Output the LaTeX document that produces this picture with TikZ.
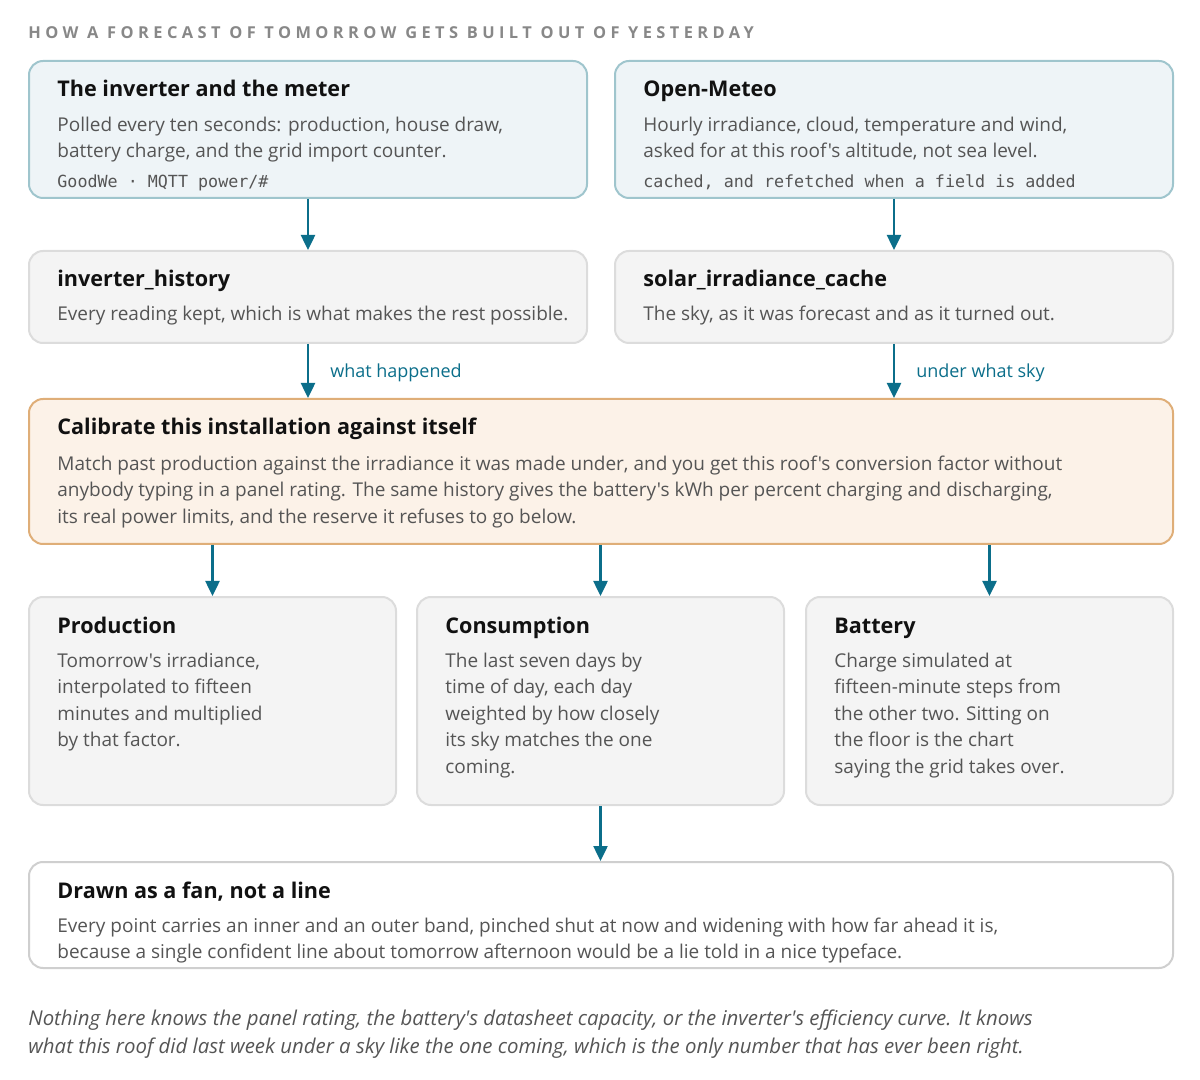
\documentclass[tikz,border=0pt]{standalone}
\usepackage{fontspec}
\usepackage{xcolor}
\setmainfont{Open Sans}[Ligatures=TeXOff]
\newfontfamily\monofont{DejaVu Sans Mono}
\newfontfamily\capsfont{Open Sans}[LetterSpace=27]
\usetikzlibrary{positioning,arrows.meta}

\definecolor{headink}{HTML}{111111}
\definecolor{inkgray}{HTML}{555555}
\definecolor{capgray}{HTML}{888888}
\definecolor{srcfill}{HTML}{EEF4F7}
\definecolor{srcline}{HTML}{9FC5CD}
\definecolor{storefill}{HTML}{F4F4F4}
\definecolor{storeline}{HTML}{DCDCDC}
\definecolor{calfill}{HTML}{FCF2E8}
\definecolor{calline}{HTML}{DFAE78}
\definecolor{fanline}{HTML}{CFCFCF}
\definecolor{flow}{HTML}{0B6E8A}

\begin{document}
\begin{tikzpicture}[
        x=0.5pt, y=-0.5pt,
        box/.style={rectangle, rounded corners=7pt, line width=1pt, anchor=north west, inner sep=0pt},
        boxsize/.style 2 args={minimum width=#1, minimum height=#2},
        srcbox/.style={box, draw=srcline, fill=srcfill, boxsize={279pt}{68.5pt}},
        storebox/.style={box, draw=storeline, fill=storefill, boxsize={279pt}{46pt}},
        calbox/.style={box, draw=calline, fill=calfill, boxsize={572pt}{72.5pt}},
        stagebox/.style={box, draw=storeline, fill=storefill, boxsize={183.5pt}{104pt}},
        fanbox/.style={box, draw=fanline, fill=white, boxsize={572pt}{53pt}},
        head/.style={anchor=base west, inner sep=0pt, text=headink,
            font=\fontsize{10.8pt}{13pt}\selectfont\bfseries},
        body/.style={anchor=north west, inner sep=0pt, align=left, text=inkgray,
            font=\fontsize{9.5pt}{13.25pt}\selectfont, execute at begin node=\strut},
        mono/.style={anchor=base west, inner sep=0pt, text=inkgray,
            font=\fontsize{8.35pt}{10pt}\monofont},
        flowlabel/.style={anchor=west, inner sep=0pt, xshift=10.5pt, yshift=-1pt, text=flow,
            font=\fontsize{9pt}{11pt}\selectfont},
        flowarrow/.style={draw=flow, line width=1.25pt, -{Triangle[width=7pt, length=7.5pt]}}]
        \useasboundingbox (0,0) rectangle (1200,1080);
        % NODES
        % caption
        \node[anchor=base west, inner sep=0pt, text=capgray,
            font=\fontsize{8.2pt}{10pt}\capsfont\bfseries] (cap) at (28,39)
            {HOW A FORECAST OF TOMORROW GETS BUILT OUT OF YESTERDAY};
        % sources
        \node[srcbox] (inv) at (28,60) {};
        \node[head] (inv-t) at ([shift={(29,37)}]inv.north west) {The inverter and the meter};
        \node[body] (inv-b) at ([shift={(29,56.5)}]inv.north west)
            {Polled every ten seconds: production, house draw,\\battery charge, and the grid import counter.};
        \node[mono] (inv-m) at ([shift={(29,128)}]inv.north west) {GoodWe · MQTT power/\#};
        \node[srcbox] (meteo) at (614,60) {};
        \node[head] (meteo-t) at ([shift={(29,37)}]meteo.north west) {Open-Meteo};
        \node[body] (meteo-b) at ([shift={(29,56.5)}]meteo.north west)
            {Hourly irradiance, cloud, temperature and wind,\\asked for at this roof's altitude, not sea level.};
        \node[mono] (meteo-m) at ([shift={(29,128)}]meteo.north west) {cached, and refetched when a field is added};
        % stores
        \node[storebox] (hist) at (28,250) {};
        \node[head] (hist-t) at ([shift={(29,37)}]hist.north west) {inverter\_history};
        \node[body] (hist-b) at ([shift={(29,51.5)}]hist.north west)
            {Every reading kept, which is what makes the rest possible.};
        \node[storebox] (cache) at (614,250) {};
        \node[head] (cache-t) at ([shift={(29,37)}]cache.north west) {solar\_irradiance\_cache};
        \node[body] (cache-b) at ([shift={(29,51.5)}]cache.north west)
            {The sky, as it was forecast and as it turned out.};
        % calibration
        \node[calbox] (calib) at (28,398) {};
        \node[head] (calib-t) at ([shift={(29,37)}]calib.north west) {Calibrate this installation against itself};
        \node[body] (calib-b) at ([shift={(29,57.5)}]calib.north west)
            {Match past production against the irradiance it was made under, and you get this roof's conversion factor without\\anybody typing in a panel rating. The same history gives the battery's kWh per percent charging and discharging,\\its real power limits, and the reserve it refuses to go below.};
        % stages
        \node[stagebox] (prod) at (28,596) {};
        \node[head] (prod-t) at ([shift={(29,37)}]prod.north west) {Production};
        \node[body] (prod-b) at ([shift={(29,56.5)}]prod.north west)
            {Tomorrow's irradiance,\\interpolated to fifteen\\minutes and multiplied\\by that factor.};
        \node[stagebox] (cons) at (416,596) {};
        \node[head] (cons-t) at ([shift={(29,37)}]cons.north west) {Consumption};
        \node[body] (cons-b) at ([shift={(29,56.5)}]cons.north west)
            {The last seven days by\\time of day, each day\\weighted by how closely\\its sky matches the one\\coming.};
        \node[stagebox] (batt) at (805,596) {};
        \node[head] (batt-t) at ([shift={(29,37)}]batt.north west) {Battery};
        \node[body] (batt-b) at ([shift={(29,56.5)}]batt.north west)
            {Charge simulated at\\fifteen-minute steps from\\the other two. Sitting on\\the floor is the chart\\saying the grid takes over.};
        % fan
        \node[fanbox] (fan) at (28,861) {};
        \node[head] (fan-t) at ([shift={(29,37)}]fan.north west) {Drawn as a fan, not a line};
        \node[body] (fan-b) at ([shift={(29,56.5)}]fan.north west)
            {Every point carries an inner and an outer band, pinched shut at now and widening with how far ahead it is,\\because a single confident line about tomorrow afternoon would be a lie told in a nice typeface.};
        % footnote
        \node[anchor=north west, inner sep=0pt, align=left, text=inkgray,
            font=\fontsize{10.2pt}{14pt}\selectfont\itshape, execute at begin node=\strut] (foot) at (28,1009)
            {Nothing here knows the panel rating, the battery's datasheet capacity, or the inverter's efficiency curve. It knows\\what this roof did last week under a sky like the one coming, which is the only number that has ever been right.};

        % ARROWS
        \draw[flowarrow] (inv.south) -- (hist.north);
        \draw[flowarrow] (meteo.south) -- (cache.north);
        \draw[flowarrow] (hist.south) -- node[flowlabel] (lbl-hist) {what happened} (hist.south |- calib.north);
        \draw[flowarrow] (cache.south) -- node[flowlabel] (lbl-cache) {under what sky} (cache.south |- calib.north);
        \draw[flowarrow] (prod.north |- calib.south) -- (prod.north);
        \draw[flowarrow] (cons.north |- calib.south) -- (cons.north);
        \draw[flowarrow] (batt.north |- calib.south) -- (batt.north);
        \draw[flowarrow] (cons.south) -- (cons.south |- fan.north);
\end{tikzpicture}
\end{document}
